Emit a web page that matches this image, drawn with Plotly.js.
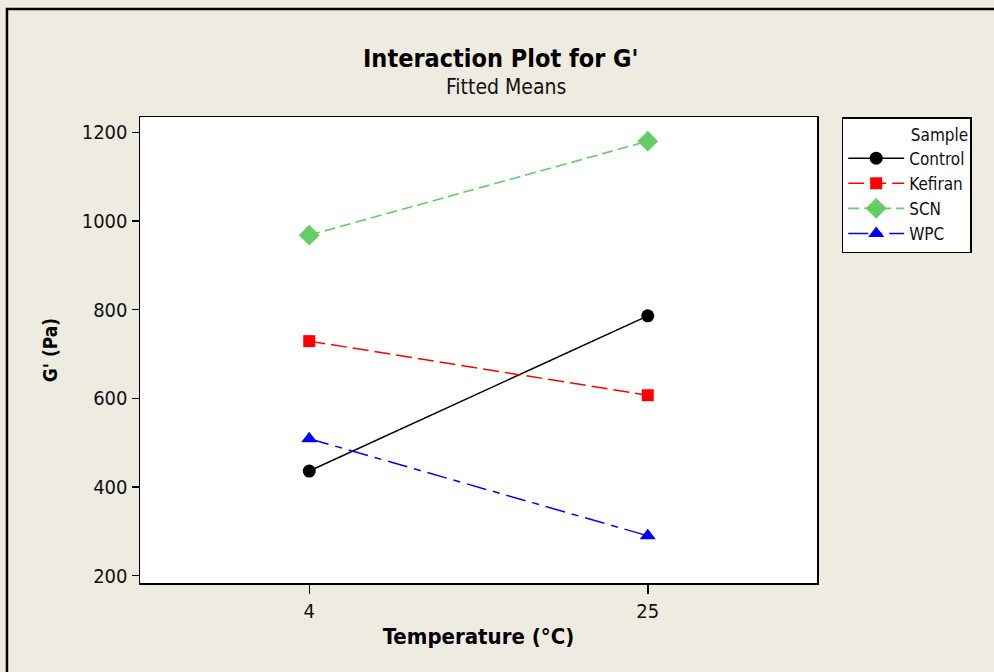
<!DOCTYPE html>
<html>
<head>
<meta charset="utf-8">
<script src="https://cdn.plot.ly/plotly-3.0.1.min.js"></script>
<style>html,body{margin:0;padding:0;background:#EEEBE1;}#chart{width:994px;height:672px;}</style>
</head>
<body>
<div id="chart"></div>
<script>
const temperatures = ['4', '25'];
const controlValues = [436, 786];
const kefiranValues = [729, 607];
const scnValues = [968, 1180];
const wpcValues = [509, 290];
const seriesNames = ['Control', 'Kefiran', 'SCN', 'WPC'];
const legendTitle = 'Sample';
const yTickValues = [200, 400, 600, 800, 1000, 1200];

const FONT = '"DejaVu Sans Condensed", "DejaVu Sans", sans-serif';

const traces = [
  {x: temperatures, y: controlValues, name: seriesNames[0], mode: 'lines+markers',
   line: {color: '#000000', width: 1.5, dash: 'solid'},
   marker: {symbol: 'circle', size: 13, color: '#000000'}},
  {x: temperatures, y: kefiranValues, name: seriesNames[1], mode: 'lines+markers',
   line: {color: '#FF0000', width: 1.5, dash: '16px,6px'},
   marker: {symbol: 'square', size: 12, color: '#FF0000'}},
  {x: temperatures, y: scnValues, name: seriesNames[2], mode: 'lines+markers',
   line: {color: '#66CC66', width: 1.6, dash: '11px,5px'},
   marker: {symbol: 'diamond', size: 16, color: '#66CC66'}},
  {x: temperatures, y: wpcValues, name: seriesNames[3], mode: 'lines+markers',
   line: {color: '#0000FF', width: 1.5, dash: '20px,7px,7px,7px'},
   marker: {symbol: 'triangle-up', size: 14, color: '#0000FF'}}
];

const layout = {
  width: 994, height: 672,
  paper_bgcolor: '#EEEBE1',
  plot_bgcolor: '#FFFFFF',
  margin: {l: 140, r: 177, t: 117, b: 89},
  font: {family: FONT, size: 20, color: '#111111'},
  showlegend: true,
  legend: {
    x: 1.0365, y: 1, xanchor: 'left', yanchor: 'top',
    bgcolor: '#FFFFFF', bordercolor: '#000000', borderwidth: 1.5,
    font: {family: FONT, size: 17, color: '#111111'},
    title: {text: legendTitle, side: 'top right',
            font: {family: FONT, size: 17, color: '#111111'}},
    itemwidth: 56,
    entrywidth: 80, entrywidthmode: 'pixels',
    tracegroupgap: 0
  },
  xaxis: {
    type: 'category',
    range: [-0.5, 1.5],
    showline: true, linecolor: '#000000', linewidth: 1.5, mirror: true,
    ticks: 'outside', ticklen: 9, tickwidth: 1.5, tickcolor: '#000000',
    showgrid: false, zeroline: false,
    tickfont: {family: FONT, size: 20, color: '#111111'},
    title: {text: 'Temperature (°C)', standoff: 7,
            font: {family: FONT, size: 22, color: '#000000', weight: 'bold'}}
  },
  yaxis: {
    range: [183.5, 1234.5],
    tickvals: yTickValues,
    showline: true, linecolor: '#000000', linewidth: 1.5, mirror: true,
    ticks: 'outside', ticklen: 7, tickwidth: 1.5, tickcolor: '#000000',
    showgrid: false, zeroline: false,
    tickfont: {family: FONT, size: 20, color: '#111111'},
    title: {text: "G' (Pa)", standoff: 19,
            font: {family: FONT, size: 19, color: '#000000', weight: 'bold'}}
  },
  annotations: [
    {text: "Interaction Plot for G'", xref: 'paper', yref: 'paper', x: 0.532, y: 1.1266,
     xanchor: 'center', yanchor: 'middle', showarrow: false,
     font: {family: FONT, size: 25, color: '#000000', weight: 'bold'}},
    {text: 'Fitted Means', xref: 'paper', yref: 'paper', x: 0.541, y: 1.0644,
     xanchor: 'center', yanchor: 'middle', showarrow: false,
     font: {family: FONT, size: 21, color: '#111111'}}
  ],
  shapes: [
    {type: 'rect', xref: 'paper', yref: 'paper', x0: -0.1965, x1: 2, y0: -1, y1: 1.2318,
     line: {color: '#000000', width: 2.5}, fillcolor: 'rgba(0,0,0,0)', layer: 'below'}
  ]
};

Plotly.newPlot('chart', traces, layout, {displayModeBar: false, staticPlot: true});
</script>
</body>
</html>
